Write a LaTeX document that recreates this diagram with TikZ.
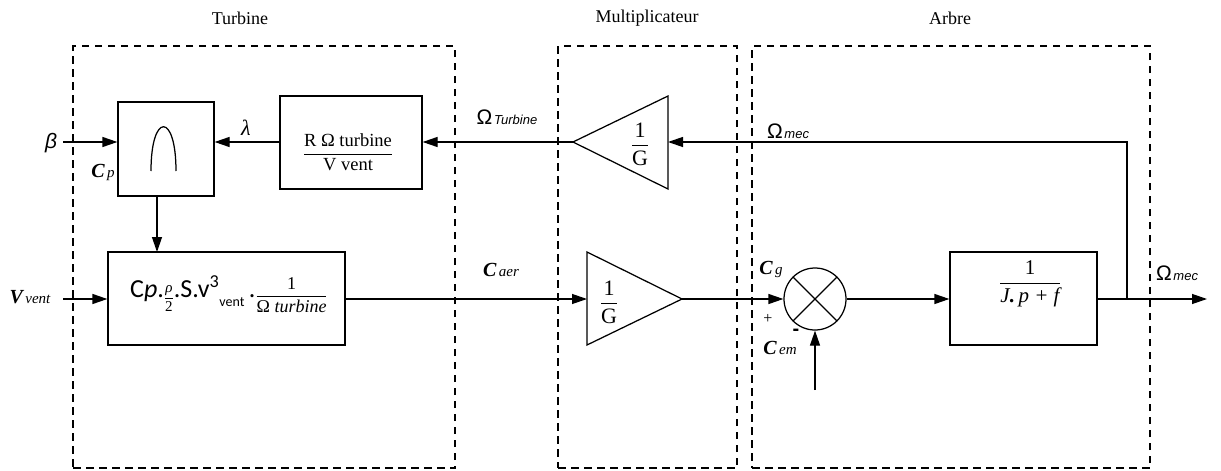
\documentclass[tikz,border=0pt]{standalone}
\usepackage{amsmath}
\usepackage{fontspec}
\setmainfont{Liberation Serif}
\newfontfamily\sansf{Liberation Sans}
\newfontfamily\calf{Carlito}
\usetikzlibrary{arrows.meta,calc}
\newcommand{\sigl}[2]{{\fontsize{20}{20}\selectfont\bfseries\itshape #1}\ {\fontsize{15}{15}\selectfont\itshape #2}}
\newcommand{\omlab}[1]{{\sansf\fontsize{21}{21}\selectfont Ω}{\fontsize{7}{7}\selectfont\ }{\sansf\itshape\fontsize{13}{13}\selectfont #1}}
\begin{document}
\begin{tikzpicture}[x=1pt,y=-1pt,
  blk/.style={draw,line width=1.25pt,inner sep=0pt},
  grp/.style={draw,line width=1.1pt,dash pattern=on 7.5pt off 5.5pt,inner sep=0pt},
  sig/.style={line width=1.25pt,-{Triangle[length=15pt,width=10pt]}},
  wire/.style={line width=1.25pt},
  ttl/.style={font=\fontsize{18}{20}\selectfont},
  lab/.style={inner sep=0pt},
  eq/.style={font=\fontsize{18.5}{21}\selectfont,inner sep=0pt}]
\useasboundingbox (0,0) rectangle (1221,471);

% group frames
\node[grp,minimum width=382pt,minimum height=422pt] (turb) at (264,257) {};
\node[grp,minimum width=179pt,minimum height=422pt] (mult) at (647.5,257) {};
\node[grp,minimum width=398pt,minimum height=422pt] (arbre) at (951,257) {};
\node[ttl] (tturb) at (240,18) {Turbine};
\node[ttl] (tmult) at (647,18) {Multiplicateur};
\node[ttl] (tarb) at (950,18) {Arbre};

% Cp max block
\node[blk,minimum width=96pt,minimum height=94pt] (cpmax) at (166,149) {};
\draw[wire] ($(cpmax.center)+(-15,22)$) .. controls ($(cpmax.center)+(-15,-37)$) and ($(cpmax.center)+(10,-37)$) .. ($(cpmax.center)+(10,22)$);

% lambda block
\node[blk,minimum width=142pt,minimum height=93pt] (rbox) at (351,142.5) {};
\node[eq] (rtxt) at (348,152) {$\dfrac{\text{R Ω turbine}}{\text{V vent}}$};

% top gain (pointing left)
\coordinate (g1tip) at (573,142);
\coordinate (g1top) at (668,96);
\coordinate (g1bot) at (668,189);
\coordinate (g1in) at (668,142);
\draw[wire] (g1tip) -- (g1top) -- (g1bot) -- cycle;
\node[eq,font=\fontsize{22}{24}\selectfont] (g1txt) at (640,144) {$\dfrac{\text{1}}{\text{G}}$};

% aerodynamic torque block
\node[blk,minimum width=237pt,minimum height=93pt] (ebox) at (226.5,298.5) {};
\node[inner sep=0pt,anchor=base west,font=\calf\fontsize{26}{28}\selectfont] (etxt) at (130,297)
  {C\textit{p}.\raisebox{-5pt}{\rmfamily\fontsize{15}{15}\selectfont$\dfrac{\text{\itshape ρ}}{\text{2}}$}.S.v\textsuperscript{3}\raisebox{-9pt}{\fontsize{14}{14}\selectfont vent}\,.\raisebox{-4pt}{\rmfamily\fontsize{18}{18}\selectfont$\dfrac{\text{1}}{\text{Ω \itshape turbine}}$}};

% bottom gain (pointing right)
\coordinate (g2in) at (587,299);
\coordinate (g2top) at (587,252);
\coordinate (g2bot) at (587,345);
\coordinate (g2tip) at (682,299);
\draw[wire] (g2tip) -- (g2top) -- (g2bot) -- cycle;
\node[eq,font=\fontsize{22}{24}\selectfont] (g2txt) at (609,302) {$\dfrac{\text{1}}{\text{G}}$};

% summing junction
\node[circle,draw,line width=1.25pt,minimum size=62pt,inner sep=0pt] (sum) at (815,299) {};
\draw[wire] (sum.north west) -- (sum.south east);
\draw[wire] (sum.north east) -- (sum.south west);

% mechanical block
\node[blk,minimum width=147pt,minimum height=93pt] (jbox) at (1023.5,298.5) {};
\node[eq,font=\fontsize{21}{23}\selectfont] (jtxt) at (1030,284) {$\dfrac{\text{1}}{\text{\itshape J\textbf{.}\,p + f}}$};

% free ends
\coordinate (bin) at (63,142);
\coordinate (vin) at (63,299);
\coordinate (cemin) at (815,390);
\coordinate (branch) at (1127,299);
\coordinate (out) at (1207,299);

% connectors
\draw[sig] (bin) -- (bin -| cpmax.west);
\draw[sig] (rbox.west |- bin) -- (cpmax.east |- bin);
\draw[sig] (g1tip) -- (rbox.east |- g1tip);
\draw[sig] (branch) -- (branch |- g1in) -- (g1in);
\draw[sig] (157,196) -- (157,252);
\draw[sig] (vin) -- (ebox.west |- vin);
\draw[sig] (ebox.east |- g2in) -- (g2in);
\draw[sig] (g2tip) -- (sum.west);
\draw[sig] (sum.east) -- (jbox.west |- sum.east);
\draw[sig] (jbox.east |- out) -- (out);
\draw[sig] (cemin) -- (sum.south);

% labels
\node[lab,font=\sansf\itshape\fontsize{21}{21}\selectfont] (lbeta) at (51,143) {β};
\node[lab,font=\itshape\fontsize{22}{22}\selectfont] (llam) at (246,128) {λ};
\node[lab] (lcp) at (103,172) {\sigl{C}{p}};
\node[lab] (lv) at (30,297) {\sigl{V}{vent}};
\node[lab] (lomt) at (507,117) {\omlab{Turbine}};
\node[lab] (lomm) at (788,131) {\omlab{mec}};
\node[lab] (lcaer) at (501,270) {\sigl{C}{aer}};
\node[lab] (lcg) at (771,269) {\sigl{C}{g}};
\node[lab,font=\fontsize{16}{16}\selectfont] (lplus) at (768,319) {+};
\node[lab,font=\sansf\bfseries\fontsize{20}{20}\selectfont] (lminus) at (796,332) {-};
\node[lab] (lcem) at (780,348) {\sigl{C}{em}};
\node[lab] (lomo) at (1177,273) {\omlab{mec}};
\end{tikzpicture}
\end{document}
